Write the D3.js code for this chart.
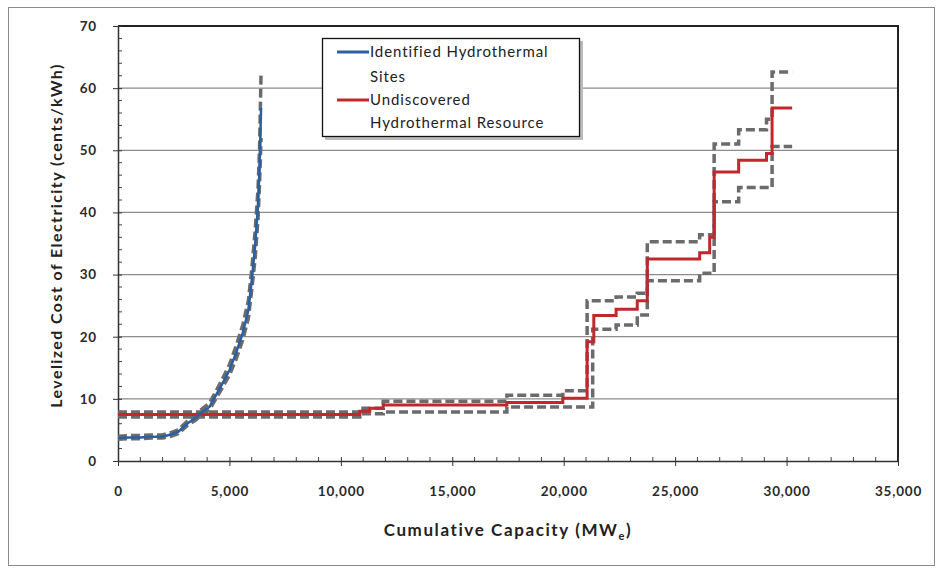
<!DOCTYPE html>
<html>
<head>
<meta charset="utf-8">
<script src="https://cdn.jsdelivr.net/npm/d3@7"></script>
<style>
  body { margin: 0; background: #fff; }
  text { font-family: Lato, "Open Sans", sans-serif; }
</style>
</head>
<body>
<svg id="drawing_region"></svg>
<script>
// identified hydrothermal sites (smooth supply curve)
const idX    = [0, 500, 1000, 1500, 2000, 2400, 2700, 3100, 3500, 3700, 4100, 4600, 5000, 5300, 5600, 5850, 6000, 6150, 6280, 6350, 6420];
const idY    = [3.7, 3.8, 3.8, 3.9, 3.9, 4.3, 4.7, 6.0, 7.0, 7.7, 8.7, 11.9, 14.6, 17.4, 20.6, 24.3, 29.0, 34.5, 41.0, 47.0, 56.8];
const idHigh = [4.0, 4.1, 4.1, 4.2, 4.2, 4.6, 5.0, 6.4, 7.4, 8.2, 9.3, 12.6, 15.5, 18.5, 21.9, 25.8, 30.8, 36.8, 43.6, 50.0, 62.6];
const idLow  = [3.5, 3.6, 3.6, 3.7, 3.7, 4.0, 4.4, 5.7, 6.6, 7.3, 8.2, 11.3, 13.8, 16.4, 19.5, 23.0, 27.5, 32.5, 38.8, 44.5, 52.0];

// undiscovered hydrothermal resource (step curves: start of each step, last entry = end)
const unX    = [0, 10850, 11300, 11900, 17450, 19960, 21050, 21350, 22350, 23300, 23750, 26100, 26550, 26750, 27850, 29100, 29350, 30250];
const unY    = [7.5, 8.0, 8.5, 9.0, 9.4, 10.1, 19.2, 23.4, 24.4, 25.8, 32.5, 33.5, 36.0, 46.5, 48.4, 49.5, 56.8, 56.8];
const unHighX = [0, 10850, 11900, 17450, 19960, 21050, 22350, 23300, 23750, 26100, 26750, 27850, 29100, 29350, 30250];
const unHigh  = [7.9, 8.5, 9.6, 10.6, 11.3, 25.8, 26.4, 27.0, 35.3, 36.4, 51.0, 53.3, 55.0, 62.6, 62.6];
const unLowX  = [0, 10850, 11900, 17450, 21300, 22350, 23300, 23750, 26100, 26750, 27850, 29350, 30250];
const unLow   = [7.1, 7.6, 7.9, 8.7, 21.2, 21.9, 23.5, 29.0, 30.2, 41.7, 44.0, 50.6, 50.6];

const xTicks = [0, 5000, 10000, 15000, 20000, 25000, 30000, 35000];
const yTicks = [0, 10, 20, 30, 40, 50, 60, 70];

const legendNames = [["Identified Hydrothermal", "Sites"], ["Undiscovered", "Hydrothermal Resource"]];
const colors = ["#2a5fa3", "#c0282d"];
const bandColor = "#6b6b6b";

const W = 942, H = 569;
const margin = {top: 26, right: 44, bottom: 108, left: 118};

const svg = d3.select("#drawing_region")
    .attr("width", W)
    .attr("height", H);

// outer chart frame
svg.append("rect")
    .attr("x", 8.5).attr("y", 7.5)
    .attr("width", 926).attr("height", 558)
    .attr("fill", "#fff")
    .attr("stroke", "#8a8a8a");

const xscale = d3.scaleLinear().domain([0, 35000]).range([margin.left, W - margin.right]);
const yscale = d3.scaleLinear().domain([0, 70]).range([H - margin.bottom, margin.top]);

// gridlines
svg.append("g")
    .selectAll("line")
    .data(yTicks.filter(d => d > 0 && d < 70))
    .join("line")
    .attr("x1", xscale(0)).attr("x2", xscale(35000))
    .attr("y1", d => yscale(d)).attr("y2", d => yscale(d))
    .attr("stroke", "#8c8c8c")
    .attr("stroke-width", 1.3);

// plot area border top/right
svg.append("path")
    .attr("d", `M${xscale(0)},${yscale(70)}H${xscale(35000)}V${yscale(0)}`)
    .attr("fill", "none")
    .attr("stroke", "#222")
    .attr("stroke-width", 2);

// minor ticks
const xMinor = d3.range(1000, 35000, 1000).filter(d => d % 5000 !== 0);
const yMinor = d3.range(2, 70, 2).filter(d => d % 10 !== 0);

svg.append("g")
    .selectAll("line")
    .data(xMinor)
    .join("line")
    .attr("x1", d => xscale(d)).attr("x2", d => xscale(d))
    .attr("y1", yscale(0)).attr("y2", yscale(0) - 4)
    .attr("stroke", "#444");

svg.append("g")
    .selectAll("line")
    .data(yMinor)
    .join("line")
    .attr("x1", xscale(0)).attr("x2", xscale(0) + 4)
    .attr("y1", d => yscale(d)).attr("y2", d => yscale(d))
    .attr("stroke", "#444");

// axes
const xaxis = d3.axisBottom(xscale)
    .tickValues(xTicks)
    .tickSizeInner(5)
    .tickSizeOuter(0)
    .tickPadding(20)
    .tickFormat(d3.format(","));
const xaxis_group = svg.append("g")
    .attr("transform", `translate(0, ${yscale(0)})`)
    .call(xaxis);
xaxis_group.selectAll(".tick line").attr("y1", -4).attr("stroke", "#333");

const yaxis = d3.axisLeft(yscale)
    .tickValues(yTicks)
    .tickSizeInner(5)
    .tickSizeOuter(0)
    .tickPadding(16);
const yaxis_group = svg.append("g")
    .attr("transform", `translate(${xscale(0)}, 0)`)
    .call(yaxis);
yaxis_group.selectAll(".tick line").attr("x1", 4).attr("stroke", "#333");

[xaxis_group, yaxis_group].forEach(g => {
    g.select(".domain").attr("stroke", "#333").attr("stroke-width", 1.5);
    g.selectAll(".tick text")
        .attr("font-family", "Lato, sans-serif")
        .attr("font-size", 13.5)
        .attr("font-weight", "bold")
        .attr("letter-spacing", 0.8)
        .attr("fill", "#2a2a2a");
});

// lines
const smooth = d3.line().x(d => xscale(d[0])).y(d => yscale(d[1]));
const step = d3.line().curve(d3.curveStepAfter).x(d => xscale(d[0])).y(d => yscale(d[1]));

const plot = svg.append("g");

function dashed(path) {
    return path.attr("fill", "none")
        .attr("stroke", bandColor)
        .attr("stroke-width", 3.5)
        .attr("stroke-dasharray", "9,4");
}

dashed(plot.append("path").attr("d", step(d3.zip(unHighX, unHigh))));
dashed(plot.append("path").attr("d", step(d3.zip(unLowX, unLow))));
dashed(plot.append("path").attr("d", smooth(d3.zip(idX, idHigh))));
dashed(plot.append("path").attr("d", smooth(d3.zip(idX, idLow))));

plot.append("path")
    .attr("d", step(d3.zip(unX, unY)))
    .attr("fill", "none")
    .attr("stroke", colors[1])
    .attr("stroke-width", 3);

plot.append("path")
    .attr("d", smooth(d3.zip(idX, idY)))
    .attr("fill", "none")
    .attr("stroke", colors[0])
    .attr("stroke-width", 2.5);

// legend
const lg = svg.append("g");
lg.append("rect")
    .attr("x", 325).attr("y", 41)
    .attr("width", 258).attr("height", 99)
    .attr("fill", "#bbb");
lg.append("rect")
    .attr("x", 322.5).attr("y", 38.5)
    .attr("width", 257).attr("height", 98)
    .attr("fill", "#fff")
    .attr("stroke", "#111")
    .attr("stroke-width", 1.3);

const entryY = [[52, 77], [100, 123]];
legendNames.forEach((lines, i) => {
    lg.append("line")
        .attr("x1", 337).attr("x2", 369)
        .attr("y1", entryY[i][0]).attr("y2", entryY[i][0])
        .attr("stroke", colors[i])
        .attr("stroke-width", 3);
    lines.forEach((t, j) => {
        lg.append("text")
            .attr("x", 370).attr("y", entryY[i][j])
            .attr("dy", "0.35em")
            .attr("font-size", 15)
            .attr("letter-spacing", 0.9)
            .attr("fill", "#222")
            .text(t);
    });
});

// axis titles
const xt = svg.append("text")
    .attr("x", (xscale(0) + xscale(35000)) / 2)
    .attr("y", 536)
    .attr("text-anchor", "middle")
    .attr("font-size", 17)
    .attr("font-weight", "bold")
    .attr("letter-spacing", 1.6)
    .attr("fill", "#222");
xt.append("tspan").text("Cumulative Capacity (MW");
xt.append("tspan").attr("font-size", 11).attr("dy", 4).text("e");
xt.append("tspan").attr("dy", -4).text(")");

svg.append("text")
    .attr("transform", `translate(56, ${(yscale(0) + yscale(70)) / 2 - 8}) rotate(-90)`)
    .attr("text-anchor", "middle")
    .attr("dy", "0.35em")
    .attr("font-size", 16)
    .attr("font-weight", "bold")
    .attr("letter-spacing", 1.4)
    .attr("fill", "#222")
    .text("Levelized Cost of Electricity (cents/kWh)");
</script>
</body>
</html>
